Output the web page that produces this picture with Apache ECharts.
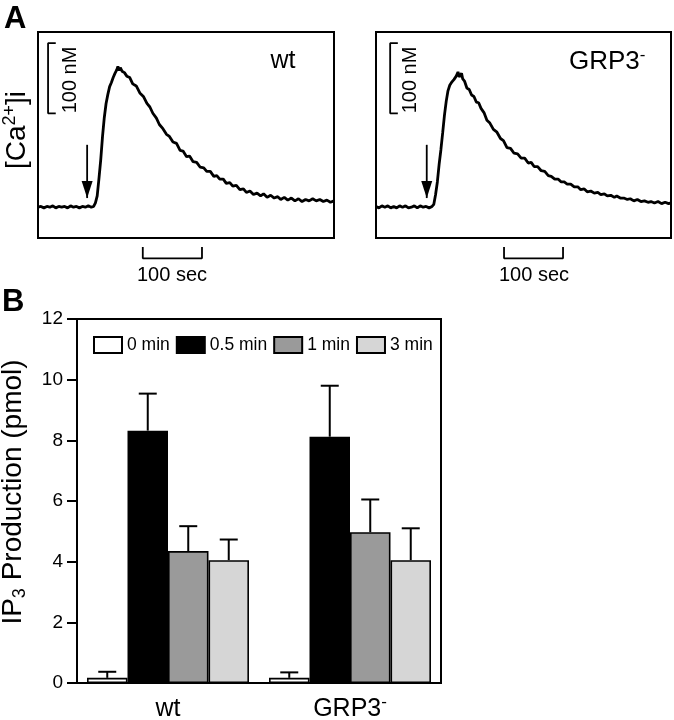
<!DOCTYPE html>
<html>
<head>
<meta charset="utf-8">
<script src="https://cdn.jsdelivr.net/npm/echarts@6/dist/echarts.min.js"></script>
<style>html,body{margin:0;padding:0;background:#fff}#c{width:674px;height:720px}</style>
</head>
<body>
<div id="c"></div>
<script>
// ---------- Panel A: [Ca2+]i traces (time in sec, concentration in nM) ----------
const tWt = [0,5,10,15,20,25,30,35,40,45,50,55,60,65,70,75,80,85,90,94,
  97,100,103,106,109,112,115,118,121,124,127,130,133,135,137,139,142,146,150,155,
  160,166,172,178,184,189,194,200,205,211,217,222,228,234,240,245,251,256,262,268,
  274,280,285,291,297,302,307,313,318,324,329,335,341,347,352,358,364,370,376,381,
  387,393,399,405,410,416,422,428,434,440,446,452,458,464,470,476,482,488,494,500];
const caWt = [44,45,43,45,44,46,43,45,44,45,43,46,44,45,43,45,44,46,44,45,
  50,60,85,112,145,172,192,205,216,222,229,235,240,245,239,243,238,236,231,229,
  220,217,207,202,192,187,178,171,162,156,148,145,137,135,125,124,116,117,109,108,
  101,100,95,95,88,89,84,84,78,79,74,75,69,70,65,67,62,64,60,63,
  58,61,57,59,55,58,54,57,53,56,52,55,53,56,53,55,52,54,51,53];
const tGrp = [0,5,10,15,20,25,30,35,40,45,50,55,60,65,70,75,80,85,90,95,
  98,101,104,107,110,113,116,119,122,125,128,132,136,139,141,143,145,147,150,154,
  158,162,166,170,174,178,183,188,193,199,205,211,216,222,228,234,240,246,252,258,
  263,268,274,280,286,292,297,303,309,314,319,324,330,336,342,347,353,358,364,370,
  376,381,387,392,398,404,408,414,420,426,431,437,443,449,455,461,466,472,478,484,
  490,496,500];
const caGrp = [45,43,46,44,46,43,45,43,46,44,46,43,44,46,43,46,44,45,43,45,
  48,62,80,105,126,150,175,195,210,218,222,226,231,237,230,228,235,227,224,214,
  212,204,202,194,193,185,179,168,164,155,151,142,139,129,128,121,120,114,114,107,
  108,102,102,96,95,89,88,84,84,80,80,77,77,73,73,69,70,66,67,64,
  65,62,63,60,61,58,60,57,57,55,56,53,55,52,53,51,52,50,52,49,
  51,49,50];
// stimulus arrows [time, from nM, to nM]
const arrowWt = [83, 133, 57];
const arrowGrp = [86, 133, 57];
// scale bars: 100 nM bracket and 100 sec bar
const nmBarWt = [[30,278],[17,278],[17,178],[30,178]];
const nmBarGrp = [[37,278],[24,278],[24,178],[37,178]];
const secBarWt = [[177,-13],[177,-29],[277,-29],[277,-13]];
const secBarGrp = [[217,-13],[217,-29],[317,-29],[317,-13]];

// ---------- Panel B: IP3 production ----------
const groups = ['wt', 'GRP3-'];
const times = ['0 min', '0.5 min', '1 min', '3 min'];
const mean0 = [0.17, 0.17];
const mean05 = [8.32, 8.12];
const mean1 = [4.35, 4.97];
const mean3 = [4.05, 4.05];
const se0 = [0.2, 0.18];
const se05 = [1.22, 1.68];
const se1 = [0.82, 1.08];
const se3 = [0.68, 1.05];
const yTicks = [0, 2, 4, 6, 8, 10, 12];

const FONT = '"Liberation Sans", Arial, Helvetica, sans-serif';
const means = [mean0, mean05, mean1, mean3];
const ses = [se0, se05, se1, se3];
const fills = ['#ffffff', '#000000', '#9a9a9a', '#d6d6d6'];
const CAT_GAP = 0.11;

const zip = (a, b) => a.map((v, i) => [v, b[i]]);

function traceSeries(idx, t, ca, arrow, nmBar, secBar) {
  return [
    { type: 'line', xAxisIndex: idx, yAxisIndex: idx, data: zip(t, ca), showSymbol: false,
      lineStyle: { color: '#000', width: 2.8 }, animation: false, silent: true },
    { type: 'line', xAxisIndex: idx, yAxisIndex: idx, clip: false, animation: false, silent: true,
      data: [[arrow[0], arrow[1]], { value: [arrow[0], arrow[2]], symbol: 'path://M0,0 L10,0 L5,16 Z',
        symbolSize: [11, 17], symbolOffset: [0, -8.5], itemStyle: { color: '#000' } }],
      showSymbol: true, symbol: 'none', lineStyle: { color: '#000', width: 1.8 } },
    { type: 'line', xAxisIndex: idx, yAxisIndex: idx, clip: false, data: nmBar, showSymbol: false,
      lineStyle: { color: '#000', width: 1.8 }, animation: false, silent: true },
    { type: 'line', xAxisIndex: idx, yAxisIndex: idx, clip: false, data: secBar, showSymbol: false,
      lineStyle: { color: '#000', width: 1.8 }, animation: false, silent: true }
  ];
}

const barSeries = times.map((name, i) => ({
  type: 'bar', name, xAxisIndex: 2, yAxisIndex: 2, data: means[i],
  barGap: '0%', barCategoryGap: (CAT_GAP * 100) + '%',
  itemStyle: { color: fills[i], borderColor: '#000', borderWidth: 1.6 }, animation: false
}));

const errSeries = times.map((name, i) => ({
  type: 'custom', xAxisIndex: 2, yAxisIndex: 2, animation: false, silent: true, z: 1,
  data: groups.map((g, j) => [j, means[i][j], means[i][j] + ses[i][j]]),
  renderItem: (params, api) => {
    const top = api.coord([api.value(0), api.value(2)]);
    const base = api.coord([api.value(0), api.value(1)]);
    const bw = api.size([1, 0])[0] * (1 - CAT_GAP) / times.length;
    const x = top[0] + (i - 1.5) * bw;
    return { type: 'group', children: [
      { type: 'line', shape: { x1: x, y1: base[1], x2: x, y2: top[1] }, style: { stroke: '#000', lineWidth: 2 } },
      { type: 'line', shape: { x1: x - 9, y1: top[1], x2: x + 9, y2: top[1] }, style: { stroke: '#000', lineWidth: 2 } }
    ] };
  }
}));

const hiddenX = { type: 'value', min: 0, max: 500, show: false };
const hiddenY = { type: 'value', min: 0, max: 294, show: false };
const gridBase = { show: true, borderColor: '#000', borderWidth: 2, backgroundColor: 'transparent',
  containLabel: false, outerBoundsMode: 'none' };

const option = {
  backgroundColor: '#fff',
  animation: false,
  textStyle: { fontFamily: FONT, color: '#000' },
  grid: [
    Object.assign({ left: 38, top: 32, width: 296, height: 206 }, gridBase),
    Object.assign({ left: 376, top: 32, width: 295, height: 206 }, gridBase),
    Object.assign({ left: 77, top: 319, width: 364, height: 364 }, gridBase)
  ],
  xAxis: [
    Object.assign({ gridIndex: 0 }, hiddenX),
    Object.assign({ gridIndex: 1 }, hiddenX),
    { gridIndex: 2, type: 'category', data: groups,
      axisLine: { lineStyle: { color: '#000', width: 2 } }, axisTick: { show: false },
      axisLabel: { color: '#000', fontSize: 25, fontFamily: FONT, margin: 11, interval: 0, hideOverlap: false,
        formatter: v => v === 'GRP3-' ? '{a|GRP3}{sup|-}' : '{a|' + v + '}',
        rich: { a: { fontSize: 25, fontFamily: FONT, color: '#000', lineHeight: 30 },
                sup: { fontSize: 17, fontFamily: FONT, color: '#000', lineHeight: 17, verticalAlign: 'top' } } } }
  ],
  yAxis: [
    Object.assign({ gridIndex: 0 }, hiddenY),
    Object.assign({ gridIndex: 1 }, hiddenY),
    { gridIndex: 2, type: 'value', min: yTicks[0], max: yTicks[yTicks.length - 1], interval: 2,
      axisLine: { show: true, lineStyle: { color: '#000', width: 2 } },
      axisTick: { show: true, length: 10, lineStyle: { color: '#000', width: 2 } },
      splitLine: { show: false },
      axisLabel: { color: '#000', fontSize: 19, fontFamily: FONT, margin: 14 },
      name: '{a|IP}{s|3}{a| Production (pmol)}', nameLocation: 'middle', nameRotate: 90, nameGap: 48,
      nameTextStyle: { padding: [0, 0, 0, 18], rich: {
        a: { fontSize: 28, fontFamily: FONT, color: '#000', lineHeight: 32 },
        s: { fontSize: 18, fontFamily: FONT, color: '#000', lineHeight: 18, verticalAlign: 'bottom' } } } }
  ],
  legend: {
    data: times, left: 93, top: 336, itemWidth: 28, itemHeight: 16, itemGap: 6, padding: 0,
    icon: 'rect', selectedMode: false,
    textStyle: { fontSize: 17.5, fontFamily: FONT, color: '#000' }
  },
  series: [
    ...traceSeries(0, tWt, caWt, arrowWt, nmBarWt, secBarWt),
    ...traceSeries(1, tGrp, caGrp, arrowGrp, nmBarGrp, secBarGrp),
    ...errSeries,
    ...barSeries
  ],
  graphic: [
    { type: 'text', x: 4, y: 4, style: { text: 'A', fontSize: 31, fontWeight: 'bold', fontFamily: FONT, fill: '#000' } },
    { type: 'text', x: 2, y: 287, style: { text: 'B', fontSize: 31, fontWeight: 'bold', fontFamily: FONT, fill: '#000' } },
    { type: 'text', x: 17, y: 130, rotation: Math.PI / 2,
      style: { text: '{a|[Ca}{sup|2+}{a|]i}', align: 'center', verticalAlign: 'middle', fill: '#000',
        rich: { a: { fontSize: 28, fontFamily: FONT, color: '#000', lineHeight: 32 },
                sup: { fontSize: 18, fontFamily: FONT, color: '#000', lineHeight: 18, verticalAlign: 'top' } } } },
    { type: 'text', x: 283, y: 61, style: { text: 'wt', fontSize: 25, fontFamily: FONT, fill: '#000', align: 'center', verticalAlign: 'middle' } },
    { type: 'text', x: 569, y: 62, style: { text: '{a|GRP3}{sup|-}', align: 'left', verticalAlign: 'middle', fill: '#000',
        rich: { a: { fontSize: 26, fontFamily: FONT, color: '#000', lineHeight: 30 },
                sup: { fontSize: 17, fontFamily: FONT, color: '#000', lineHeight: 17, verticalAlign: 'top' } } } },
    { type: 'text', x: 70, y: 80, rotation: Math.PI / 2, style: { text: '100 nM', fontSize: 20, fontFamily: FONT, fill: '#000', align: 'center', verticalAlign: 'middle' } },
    { type: 'text', x: 410, y: 80, rotation: Math.PI / 2, style: { text: '100 nM', fontSize: 20, fontFamily: FONT, fill: '#000', align: 'center', verticalAlign: 'middle' } },
    { type: 'text', x: 172, y: 275, style: { text: '100 sec', fontSize: 20, fontFamily: FONT, fill: '#000', align: 'center', verticalAlign: 'middle' } },
    { type: 'text', x: 534, y: 275, style: { text: '100 sec', fontSize: 20, fontFamily: FONT, fill: '#000', align: 'center', verticalAlign: 'middle' } }
  ]
};

const chart = echarts.init(document.getElementById('c'), null, { renderer: 'canvas' });
chart.setOption(option);
</script>
</body>
</html>
